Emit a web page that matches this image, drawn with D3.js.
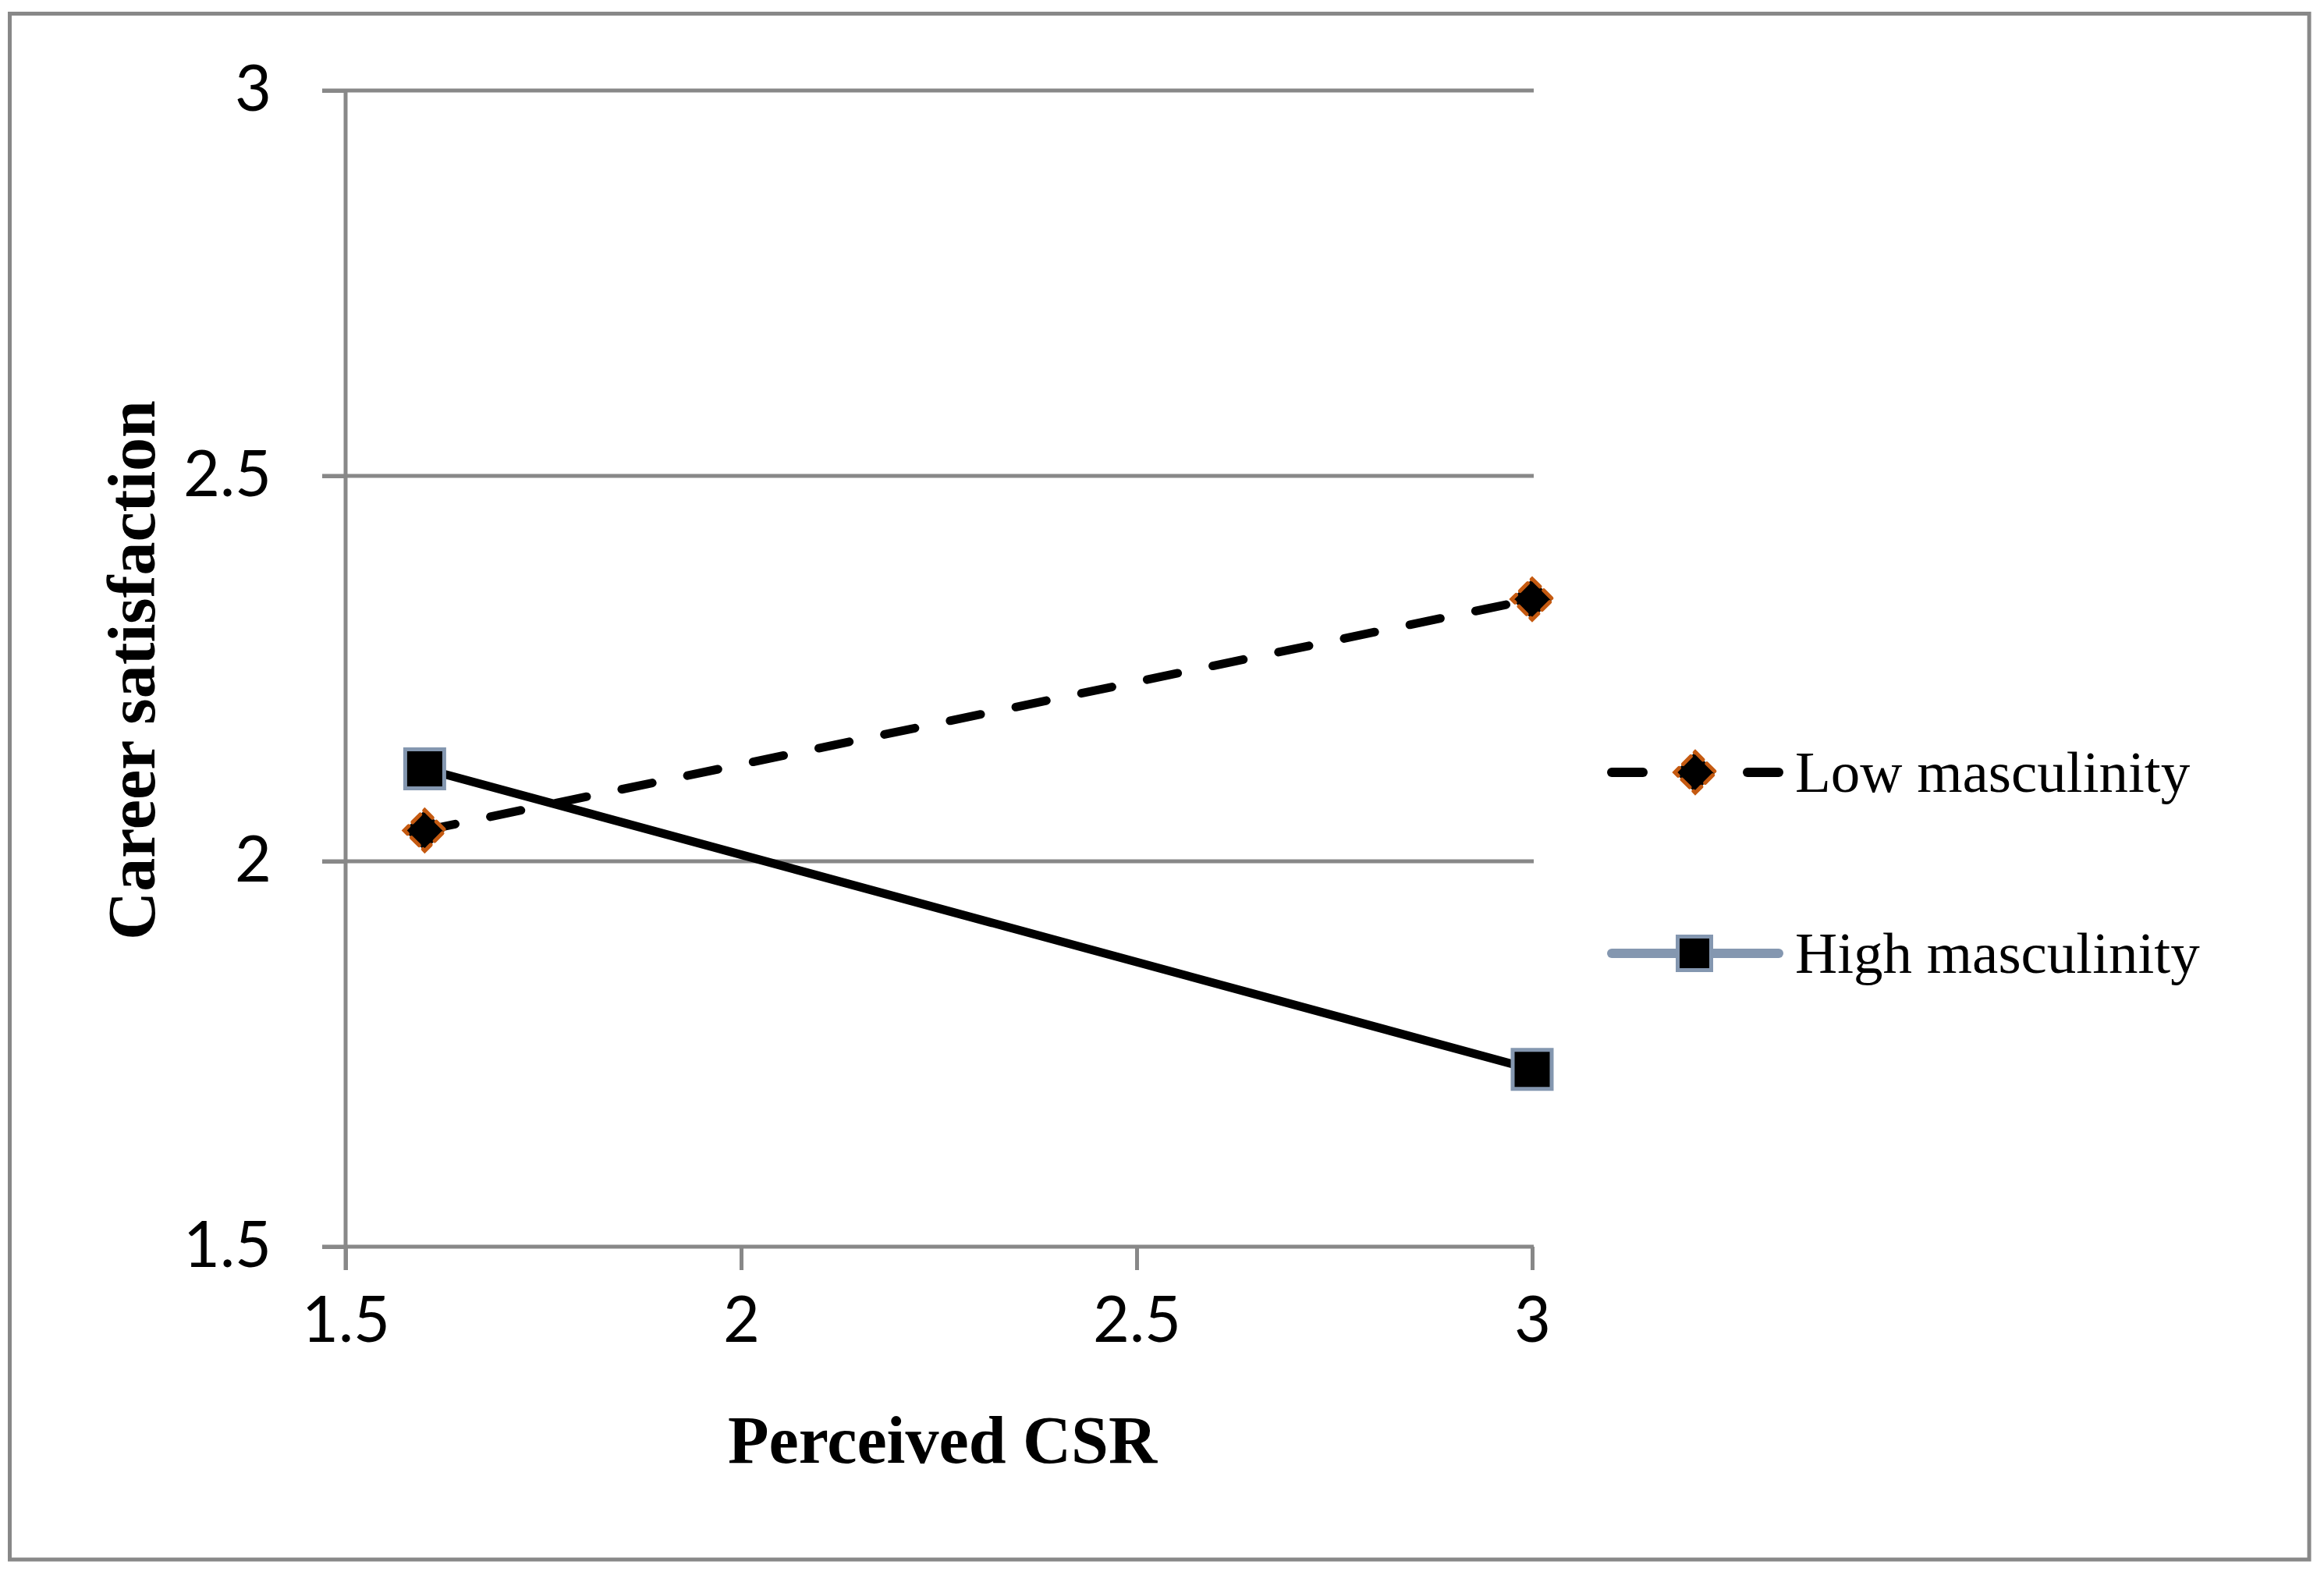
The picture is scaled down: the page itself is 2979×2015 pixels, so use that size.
<!DOCTYPE html>
<html>
<head>
<meta charset="utf-8">
<script src="https://cdn.jsdelivr.net/npm/d3@7"></script>
<style>
  body { margin: 0; background: #fff; }
</style>
</head>
<body>
<div id="chart"></div>
<script>
// values
const xValues = [1.6, 3]
const lowMasculinity = [2.04, 2.34]
const highMasculinity = [2.12, 1.73]
const xTicks = [1.5, 2, 2.5, 3]
const yTicks = [1.5, 2, 2.5, 3]
const seriesNames = ["Low masculinity", "High masculinity"]

const w = 2979
const h = 2015
const grid = '#888888'
const tickFont = "Lato, Carlito, 'Liberation Sans', sans-serif"
const serif = "'Liberation Serif', 'Times New Roman', serif"

const svg = d3.select('#chart')
  .append('svg')
  .attr('width', w)
  .attr('height', h)

svg.append('rect')
  .attr('width', w)
  .attr('height', h)
  .attr('fill', '#fff')

// outer frame
svg.append('rect')
  .attr('x', 12.5)
  .attr('y', 17.5)
  .attr('width', 2947.5)
  .attr('height', 1981.5)
  .attr('fill', 'none')
  .attr('stroke', grid)
  .attr('stroke-width', 5)

const x = d3.scaleLinear().domain([1.5, 3]).range([443, 1964])
const y = d3.scaleLinear().domain([1.5, 3]).range([1598, 116])

// horizontal gridlines
svg.append('g')
  .selectAll('line')
  .data(yTicks.filter(d => d > 1.5))
  .enter()
  .append('line')
  .attr('x1', x(1.5) - 30)
  .attr('x2', x(3) + 2)
  .attr('y1', d => y(d))
  .attr('y2', d => y(d))
  .attr('stroke', grid)
  .attr('stroke-width', 5)

// y axis
const yAxis = svg.append('g')
  .attr('transform', `translate(${x(1.5)},0)`)
  .call(d3.axisLeft(y).tickValues(yTicks).tickSize(30).tickPadding(65).tickFormat(d3.format('')))
yAxis.select('.domain')
  .attr('d', `M0,${y(3)}V${y(1.5) + 30}`)
  .attr('stroke', grid)
  .attr('stroke-width', 5)
yAxis.selectAll('line').attr('stroke', grid).attr('stroke-width', 5)
yAxis.selectAll('text')
  .attr('font-family', tickFont)
  .attr('font-size', 81)
  .attr('fill', '#000')

// x axis
const xAxis = svg.append('g')
  .attr('transform', `translate(0,${y(1.5)})`)
  .call(d3.axisBottom(x).tickValues(xTicks).tickSize(30).tickPadding(92).tickFormat(d3.format('')))
xAxis.select('.domain')
  .attr('d', `M${x(1.5) - 30},0H${x(3) + 2}`)
  .attr('stroke', grid)
  .attr('stroke-width', 5)
xAxis.selectAll('line').attr('stroke', grid).attr('stroke-width', 5)
xAxis.selectAll('text')
  .attr('font-family', tickFont)
  .attr('font-size', 81)
  .attr('fill', '#000')
  .attr('dy', '0')

// axis titles
svg.append('text')
  .attr('x', 1208)
  .attr('y', 1875)
  .attr('text-anchor', 'middle')
  .attr('font-family', serif)
  .attr('font-weight', 'bold')
  .attr('font-size', 86)
  .text('Perceived CSR')

svg.append('text')
  .attr('transform', 'translate(198,859) rotate(-90)')
  .attr('text-anchor', 'middle')
  .attr('font-family', serif)
  .attr('font-weight', 'bold')
  .attr('font-size', 86)
  .text('Career satisfaction')

// lines
const line = d3.line()
  .x((d, i) => x(xValues[i]))
  .y(d => y(d))

svg.append('path')
  .datum(highMasculinity)
  .attr('d', line)
  .attr('fill', 'none')
  .attr('stroke', '#000')
  .attr('stroke-width', 11)
  .attr('stroke-linecap', 'round')

svg.append('path')
  .datum(lowMasculinity)
  .attr('d', line)
  .attr('fill', 'none')
  .attr('stroke', '#000')
  .attr('stroke-width', 11)
  .attr('stroke-linecap', 'round')
  .attr('stroke-dasharray', '40,46')

const diamond = d3.symbol().type(d3.symbolSquare).size(1369)
const square = d3.symbol().type(d3.symbolSquare).size(2500)

// markers
svg.append('g')
  .selectAll('path')
  .data(highMasculinity)
  .enter()
  .append('path')
  .attr('d', square)
  .attr('transform', (d, i) => `translate(${x(xValues[i])},${y(d)})`)
  .attr('fill', '#000')
  .attr('stroke', '#8497B0')
  .attr('stroke-width', 5)

svg.append('g')
  .selectAll('path')
  .data(lowMasculinity)
  .enter()
  .append('path')
  .attr('d', diamond)
  .attr('transform', (d, i) => `translate(${x(xValues[i])},${y(d)}) rotate(45)`)
  .attr('fill', '#000')
  .attr('stroke', '#C55A11')
  .attr('stroke-width', 5)
  .attr('stroke-linecap', 'round')
  .attr('stroke-dasharray', '14,7')

// legend
const legendY = [990, 1222]
const lg = svg.append('g')

lg.selectAll('.dash')
  .data([[2066, 2106], [2240, 2280]])
  .enter()
  .append('line')
  .attr('x1', d => d[0]).attr('x2', d => d[1])
  .attr('y1', legendY[0]).attr('y2', legendY[0])
  .attr('stroke', '#000')
  .attr('stroke-width', 12)
  .attr('stroke-linecap', 'round')
lg.append('path')
  .attr('d', diamond)
  .attr('transform', `translate(2173,${legendY[0]}) rotate(45)`)
  .attr('fill', '#000')
  .attr('stroke', '#C55A11')
  .attr('stroke-width', 5)
  .attr('stroke-linecap', 'round')
  .attr('stroke-dasharray', '14,7')

lg.append('line')
  .attr('x1', 2066).attr('x2', 2280)
  .attr('y1', legendY[1]).attr('y2', legendY[1])
  .attr('stroke', '#8497B0')
  .attr('stroke-width', 12)
  .attr('stroke-linecap', 'round')
lg.append('path')
  .attr('d', d3.symbol().type(d3.symbolSquare).size(1849))
  .attr('transform', `translate(2172,${legendY[1]})`)
  .attr('fill', '#000')
  .attr('stroke', '#8497B0')
  .attr('stroke-width', 5)

lg.selectAll('text')
  .data(seriesNames)
  .enter()
  .append('text')
  .attr('x', 2301)
  .attr('y', (d, i) => legendY[i] + 25)
  .attr('font-family', serif)
  .attr('font-size', 75)
  .attr('fill', '#000')
  .text(d => d)
</script>
</body>
</html>
